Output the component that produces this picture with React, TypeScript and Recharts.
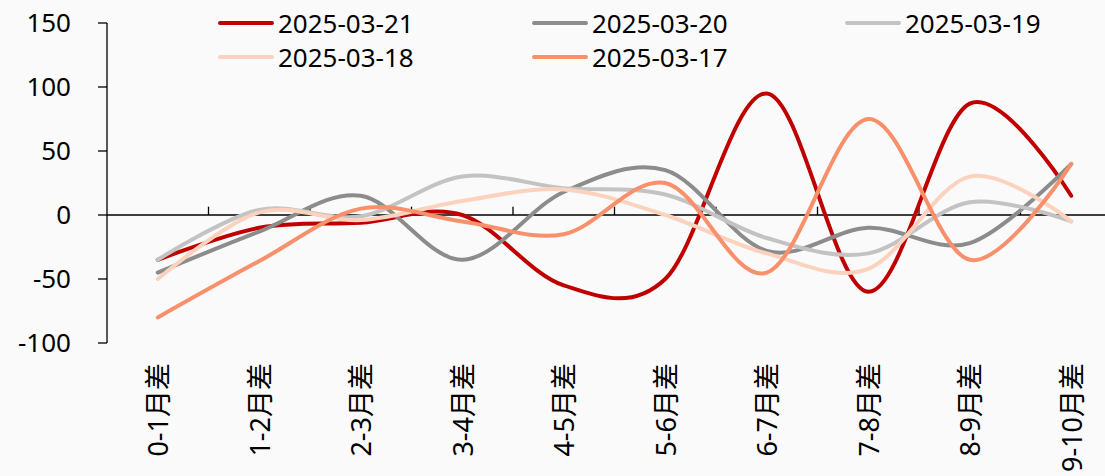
import { Legend, Line, LineChart, ReferenceLine, XAxis, YAxis } from 'recharts'

const categories = ['0-1月差', '1-2月差', '2-3月差', '3-4月差', '4-5月差', '5-6月差', '6-7月差', '7-8月差', '8-9月差', '9-10月差']

const d0321 = [-35, -10, -6, 0, -55, -50, 95, -60, 87, 15]
const d0320 = [-45, -13, 15, -35, 18, 35, -28, -10, -22, 40]
const d0319 = [-35, 4, -1, 30, 21, 16, -18, -30, 10, -5]
const d0318 = [-50, 2, -4, 11, 20, 0, -30, -42, 30, -5]
const d0317 = [-80, -36, 5, -5, -15, 25, -45, 75, -35, 40]

const yTicks = [-100, -50, 0, 50, 100, 150]

const series = [
  { key: '2025-03-21', values: d0321, color: '#c00000' },
  { key: '2025-03-20', values: d0320, color: '#8c8c8c' },
  { key: '2025-03-19', values: d0319, color: '#c3c3c3' },
  { key: '2025-03-18', values: d0318, color: '#fbd2bd' },
  { key: '2025-03-17', values: d0317, color: '#f8906b' },
]

const data = categories.map((name, i) => {
  const row: Record<string, string | number> = { name }
  series.forEach((s) => {
    row[s.key] = s.values[i]
  })
  return row
})

// small tick marks on the zero line sit at the start of every band but the first
const boundaryCats = categories.slice(1)

const FONT = "'Noto Sans', 'Noto Sans CJK SC', sans-serif"

// Excel-like smoothing (catmull-rom / cardinal, tension 0)
function smoothCurve(context: any) {
  const k = 1 / 6
  let x0 = NaN, x1 = NaN, x2 = NaN, y0 = NaN, y1 = NaN, y2 = NaN
  let state = 0
  const seg = (x: number, y: number) => {
    context.bezierCurveTo(
      x1 + k * (x2 - x0),
      y1 + k * (y2 - y0),
      x2 + k * (x1 - x),
      y2 + k * (y1 - y),
      x2,
      y2,
    )
  }
  return {
    areaStart() {},
    areaEnd() {},
    lineStart() {
      x0 = x1 = x2 = y0 = y1 = y2 = NaN
      state = 0
    },
    lineEnd() {
      if (state === 2) context.lineTo(x2, y2)
      else if (state === 3) seg(x1, y1)
    },
    point(x: number, y: number) {
      x = +x
      y = +y
      if (state === 0) {
        state = 1
        context.moveTo(x, y)
      } else if (state === 1) {
        state = 2
        x1 = x
        y1 = y
      } else {
        state = 3
        seg(x, y)
      }
      x0 = x1
      x1 = x2
      x2 = x
      y0 = y1
      y1 = y2
      y2 = y
    },
  }
}

function CategoryTick({ x, y, payload }: any) {
  return (
    <text
      x={x}
      y={y}
      transform={`rotate(-90 ${x} ${y})`}
      textAnchor="end"
      dominantBaseline="central"
      fill="#000"
      fontSize={27}
      fontFamily={FONT}
    >
      {payload.value}
    </text>
  )
}

function ChartLegend() {
  const cols = [218, 532, 845]
  return (
    <div style={{ position: 'relative', width: 1105, height: 80 }}>
      {series.map((s, i) => (
        <div
          key={s.key}
          style={{
            position: 'absolute',
            left: cols[i % 3],
            top: 6 + Math.floor(i / 3) * 34,
            display: 'flex',
            alignItems: 'center',
            height: 34,
          }}
        >
          <svg width={56} height={10}>
            <line x1={2} y1={5} x2={54} y2={5} stroke={s.color} strokeWidth={4} strokeLinecap="round" />
          </svg>
          <span style={{ marginLeft: 4, fontSize: 26, fontFamily: FONT, color: '#000', lineHeight: '34px' }}>
            {s.key}
          </span>
        </div>
      ))}
    </div>
  )
}

export default function App() {
  return (
    <div
      style={{
        position: 'absolute',
        left: 0,
        top: 0,
        width: 1105,
        height: 476,
        overflow: 'hidden',
        background: '#fafafa',
      }}
    >
      <LineChart width={1130} height={520} data={data} margin={{ top: 23, right: 8, bottom: 0, left: 0 }}>
        <XAxis
          dataKey="name"
          scale="band"
          axisLine={false}
          tickLine={false}
          tickSize={0}
          tickMargin={20}
          interval={0}
          height={177}
          tick={<CategoryTick />}
        />
        <YAxis
          domain={[-100, 150]}
          ticks={yTicks}
          interval={0}
          width={107}
          axisLine={{ stroke: '#000', strokeWidth: 1.3 }}
          tickLine={{ stroke: '#000', strokeWidth: 1.3 }}
          tickSize={9}
          tickMargin={27}
          tick={{ fill: '#000', fontSize: 26, fontFamily: FONT }}
          allowDataOverflow
        />
        <ReferenceLine y={0} stroke="#000" strokeWidth={1.3} />
        {boundaryCats.map((c) => (
          <ReferenceLine
            key={c}
            position="start"
            segment={[
              { x: c, y: 0 },
              { x: c, y: 6.5 },
            ]}
            stroke="#000"
            strokeWidth={1.3}
          />
        ))}
        <Legend
          layout="vertical"
          align="center"
          verticalAlign="middle"
          wrapperStyle={{ top: 0, left: 0, width: 1105, height: 80 }}
          content={<ChartLegend />}
        />
        {series.map((s) => (
          <Line
            key={s.key}
            dataKey={s.key}
            stroke={s.color}
            strokeWidth={4}
            strokeLinecap="round"
            dot={false}
            activeDot={false}
            type={smoothCurve as any}
            isAnimationActive={false}
          />
        ))}
      </LineChart>
    </div>
  )
}
